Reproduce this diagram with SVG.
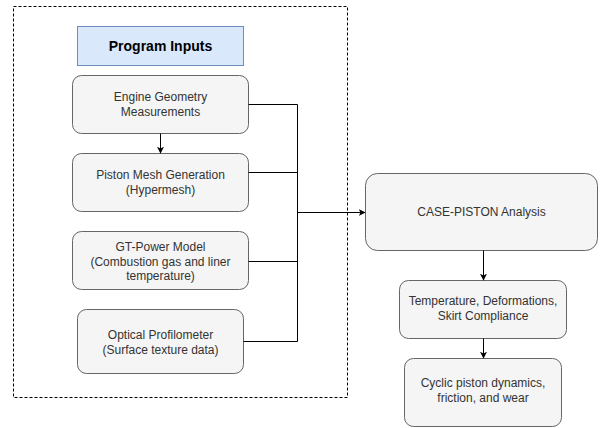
<svg xmlns="http://www.w3.org/2000/svg" width="600" height="428" viewBox="0 0 600 428">
<defs>
<marker id="arr" viewBox="0 0 10 10" refX="9" refY="5" markerWidth="7" markerHeight="7" orient="auto" markerUnits="userSpaceOnUse"><path d="M0,0 L10,5 L0,10 L2.5,5 Z" fill="#000"/></marker>
<style>
.box{fill:#f5f5f5;stroke:#666;stroke-width:1}
.t{font-family:"Liberation Sans",Arial,sans-serif;font-size:12px;fill:#333;text-anchor:middle}
.c{fill:none;stroke:#000;stroke-width:1}
</style>
</defs>
<rect x="0" y="0" width="600" height="428" fill="#fff"/>
<rect x="13.5" y="6.5" width="334" height="391" fill="none" stroke="#000" stroke-dasharray="3,2"/>
<g id="program-inputs">
<rect x="77.5" y="26.5" width="166" height="39" fill="#dae8fc" stroke="#6c8ebf"/>
<text x="160.5" y="51" class="t" style="font-size:14px;font-weight:bold;fill:#000">Program Inputs</text>
</g>
<g id="engine-geometry">
<rect class="box" x="72.5" y="75.5" width="176" height="58" rx="9"/>
<text class="t" x="160.5" y="101">Engine Geometry</text>
<text class="t" x="160.5" y="116">Measurements</text>
</g>
<g id="piston-mesh">
<rect class="box" x="72.5" y="153.5" width="176" height="58" rx="9"/>
<text class="t" x="160.5" y="179">Piston Mesh Generation</text>
<text class="t" x="160.5" y="194">(Hypermesh)</text>
</g>
<g id="gt-power">
<rect class="box" x="72.5" y="231.5" width="176" height="58" rx="9"/>
<text class="t" x="160.5" y="251">GT-Power Model</text>
<text class="t" x="160.5" y="265.5">(Combustion gas and liner</text>
<text class="t" x="160.5" y="280">temperature)</text>
</g>
<g id="optical">
<rect class="box" x="77.5" y="309.5" width="166" height="64" rx="9"/>
<text class="t" x="160.5" y="339">Optical Profilometer</text>
<text class="t" x="160.5" y="354">(Surface texture data)</text>
</g>
<g id="case-piston">
<rect class="box" x="365.5" y="173.5" width="232" height="77" rx="12"/>
<text class="t" x="481.5" y="216">CASE-PISTON Analysis</text>
</g>
<g id="temperature">
<rect class="box" x="399.5" y="280.5" width="167" height="58" rx="9"/>
<text class="t" x="483" y="305">Temperature, Deformations,</text>
<text class="t" x="483" y="320">Skirt Compliance</text>
</g>
<g id="cyclic">
<rect class="box" x="404.5" y="358.5" width="157" height="68" rx="9"/>
<text class="t" x="483" y="387">Cyclic piston dynamics,</text>
<text class="t" x="483" y="402">friction, and wear</text>
</g>
<g id="connectors">
<path class="c" d="M160.5,133.5 V153" marker-end="url(#arr)"/>
<path class="c" d="M248.5,104.5 H297.5 V341.5 H243.5"/>
<path class="c" d="M248.5,172.5 H297.5"/>
<path class="c" d="M248.5,261.5 H297.5"/>
<path class="c" d="M297.5,212.5 H365" marker-end="url(#arr)"/>
<path class="c" d="M483.5,250.5 V280" marker-end="url(#arr)"/>
<path class="c" d="M483.5,338.5 V358" marker-end="url(#arr)"/>
</g>
</svg>
